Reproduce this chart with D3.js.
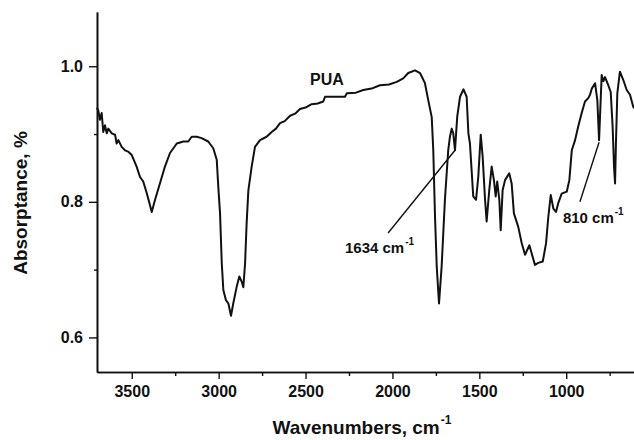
<!DOCTYPE html>
<html>
<head>
<meta charset="utf-8">
<script src="https://cdn.jsdelivr.net/npm/d3@7"></script>
<style>
  html, body { margin: 0; padding: 0; background: #fff; }
  svg { display: block; }
  text { font-family: "Liberation Sans", Arial, Helvetica, sans-serif; font-weight: bold; fill: #111; }
</style>
</head>
<body>
<svg id="chart" width="634" height="440"></svg>
<script>
// Wavenumbers (cm-1) and absorptance values
const wavenumbers = [3700,3693,3683,3673,3664,3654,3644,3635,3615,3596,3587,3577,3558,3539,3520,3500,3472,3453,3434,3414,3395,3385,3366,3338,3309,3280,3241,3203,3175,3155,3126,3098,3060,3031,3011,3002,2992,2982,2973,2958,2944,2929,2916,2896,2881,2867,2858,2848,2839,2829,2810,2791,2762,2724,2695,2670,2647,2620,2589,2560,2532,2500,2465,2430,2398,2388,2330,2273,2263,2210,2168,2120,2072,2020,1975,1938,1909,1870,1841,1813,1794,1774,1765,1755,1745,1732,1717,1698,1679,1669,1659,1650,1640,1627,1611,1591,1573,1563,1554,1535,1519,1506,1492,1481,1467,1458,1443,1429,1416,1406,1397,1385,1377,1366,1352,1328,1314,1301,1276,1256,1237,1212,1199,1180,1161,1135,1116,1103,1089,1074,1059,1046,1026,997,982,968,949,931,911,892,873,863,853,834,821,811,796,786,777,758,744,733,725,719,714,706,691,672,652,633,614,610];
const absorptance = [0.939,0.935,0.921,0.931,0.903,0.913,0.901,0.908,0.901,0.899,0.886,0.891,0.881,0.876,0.874,0.869,0.852,0.837,0.830,0.813,0.795,0.785,0.803,0.827,0.852,0.872,0.886,0.889,0.889,0.896,0.896,0.894,0.889,0.879,0.862,0.822,0.783,0.709,0.670,0.655,0.650,0.632,0.650,0.675,0.690,0.682,0.674,0.709,0.768,0.817,0.852,0.881,0.891,0.896,0.903,0.908,0.916,0.919,0.927,0.930,0.937,0.939,0.944,0.945,0.948,0.955,0.955,0.955,0.960,0.961,0.965,0.967,0.972,0.973,0.977,0.982,0.990,0.994,0.990,0.975,0.950,0.925,0.876,0.778,0.704,0.650,0.704,0.803,0.876,0.896,0.908,0.901,0.876,0.926,0.955,0.966,0.955,0.901,0.886,0.808,0.803,0.837,0.899,0.867,0.803,0.771,0.817,0.852,0.832,0.808,0.830,0.803,0.758,0.817,0.832,0.842,0.827,0.783,0.763,0.739,0.722,0.736,0.724,0.707,0.710,0.712,0.739,0.778,0.810,0.790,0.785,0.798,0.812,0.815,0.832,0.876,0.891,0.911,0.931,0.948,0.953,0.958,0.967,0.975,0.950,0.891,0.987,0.978,0.984,0.972,0.962,0.911,0.852,0.827,0.886,0.960,0.992,0.980,0.965,0.958,0.940,0.938];

const xMajorTicks = [3500, 3000, 2500, 2000, 1500, 1000];
const xMinorTicks = [3250, 2750, 2250, 1750, 1250, 750];
const yMajorTicks = [0.6, 0.8, 1.0];
const yMinorTicks = [0.7, 0.9];

// Annotations: label text, label anchor, pointer start and pointer tip (data coords)
const annotationLabels = ["1634 cm", "810 cm"];
const annotationTextWn = [2273, 1019];
const annotationTextVal = [0.725, 0.769];
const annotationFromWn = [2025, 921];
const annotationFromVal = [0.754, 0.800];
const annotationToWn = [1640, 811];
const annotationToVal = [0.876, 0.888];
const seriesLabel = "PUA";
const seriesLabelWn = 2474, seriesLabelVal = 0.972;

(function () {
const svg = d3.select("#chart");
const mLeft = 97, mRight = 634, mTop = 12, mBottom = 372;

const x = d3.scaleLinear().domain([3700, 610]).range([mLeft, mRight]);
const y = d3.scaleLinear().domain([0.549, 1.08]).range([mBottom, mTop]);

// Axes
svg.append("g").attr("transform", `translate(${mLeft},0)`)
  .call(d3.axisLeft(y).tickValues(yMajorTicks).tickFormat(d3.format(".1f")).tickSize(8).tickSizeOuter(0).tickPadding(6));
svg.append("g").attr("transform", `translate(${mLeft},0)`)
  .call(d3.axisLeft(y).tickValues(yMinorTicks).tickFormat("").tickSize(3).tickSizeOuter(0));
svg.append("g").attr("transform", `translate(0,${mBottom})`)
  .call(d3.axisBottom(x).tickValues(xMajorTicks).tickFormat(d3.format("d")).tickSize(7).tickSizeOuter(0).tickPadding(7));
svg.append("g").attr("transform", `translate(0,${mBottom})`)
  .call(d3.axisBottom(x).tickValues(xMinorTicks).tickFormat("").tickSize(4).tickSizeOuter(0));

svg.selectAll(".domain").attr("stroke", "#111").attr("stroke-width", 1.6);
svg.selectAll(".tick line").attr("stroke", "#111").attr("stroke-width", 1.4);
svg.selectAll(".tick text").style("font-size", "16px").style("font-family", '"Liberation Sans", Arial, sans-serif').style("font-weight", "bold").attr("fill", "#111");

// Spectrum line
const pts = wavenumbers.map((w, i) => [w, absorptance[i]]);
svg.append("path")
  .datum(pts)
  .attr("fill", "none")
  .attr("stroke", "#111")
  .attr("stroke-width", 2)
  .attr("stroke-linejoin", "round")
  .attr("d", d3.line().x(d => x(d[0])).y(d => y(d[1])));

// Annotation pointers and labels
annotationLabels.forEach((lab, i) => {
  svg.append("line")
    .attr("x1", x(annotationFromWn[i])).attr("y1", y(annotationFromVal[i]))
    .attr("x2", x(annotationToWn[i])).attr("y2", y(annotationToVal[i]))
    .attr("stroke", "#111").attr("stroke-width", 1.4);
  const t = svg.append("text")
    .attr("x", x(annotationTextWn[i])).attr("y", y(annotationTextVal[i]))
    .style("font-size", "15px");
  t.append("tspan").text(lab);
  t.append("tspan").attr("dy", -8).attr("dx", 1).style("font-size", "10px").text("-1");
});

svg.append("text")
  .attr("x", x(seriesLabelWn)).attr("y", y(seriesLabelVal))
  .style("font-size", "16px")
  .text(seriesLabel);

// Axis titles
svg.append("text")
  .attr("transform", "translate(27,203) rotate(-90)")
  .attr("text-anchor", "middle")
  .style("font-size", "19px")
  .text("Absorptance, %");

const xt = svg.append("text")
  .attr("x", 362).attr("y", 434)
  .attr("text-anchor", "middle")
  .style("font-size", "19px");
xt.append("tspan").text("Wavenumbers, cm");
xt.append("tspan").attr("dy", -10).attr("dx", 1).style("font-size", "12px").text("-1");
})();
</script>
</body>
</html>
